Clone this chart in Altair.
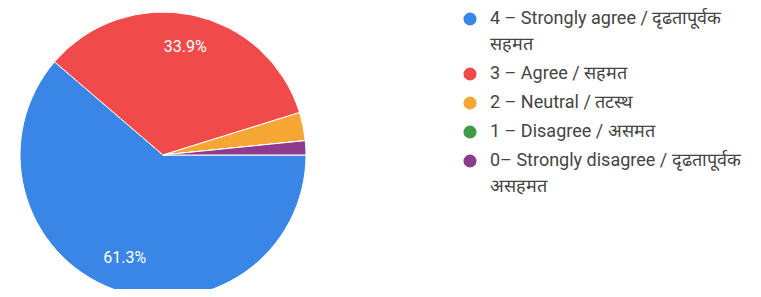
import altair as alt
import pandas as pd
import math

categories = [
    "4 – Strongly agree / दृढतापूर्वक\nसहमत",
    "3 – Agree / सहमत",
    "2 – Neutral / तटस्थ",
    "1 – Disagree / असमत",
    "0– Strongly disagree / दृढतापूर्वक\nअसहमत",
]
values = [61.3, 33.9, 3.2, 0.0, 1.6]
colors = ["#3a86e6", "#f04a4a", "#f6a733", "#3f9b45", "#8e3a8d"]

df = pd.DataFrame({"cat": categories, "value": values, "idx": list(range(len(values)))})

theta_scale = alt.Scale(range=[math.pi / 2, math.pi / 2 + 2 * math.pi])

base = alt.Chart(df).encode(
    theta=alt.Theta("value:Q", stack=True, scale=theta_scale),
    order=alt.Order("idx:Q"),
    x=alt.value(155),
    y=alt.value(147),
)

pie = base.mark_arc(outerRadius=143, stroke="white", strokeWidth=1).encode(
    color=alt.Color(
        "cat:N",
        sort=categories,
        scale=alt.Scale(domain=categories, range=colors),
        legend=alt.Legend(
            title=None,
            orient="none",
            legendX=453,
            legendY=2,
            symbolType="circle",
            symbolSize=170,
            symbolStrokeWidth=0,
            labelFont="Roboto",
            labelFontSize=18,
            labelColor="#444444",
            labelLimit=400,
            labelExpr="split(datum.label, '\\n')",
            rowPadding=11,
            labelOffset=11,
        ),
    )
)

text = base.mark_text(radius=110, font="Roboto", fontSize=16, color="white").encode(
    text=alt.Text("lbl:N")
).transform_calculate(
    lbl="datum.value >= 5 ? format(datum.value, '.1f') + '%' : ''"
)

chart = (pie + text).properties(
    width=745, height=281, padding=0, autosize=alt.AutoSizeParams(type="none")
).configure(style={"guide-label": {"lineHeight": 26}}).configure_view(stroke=None)

chart.save("out.html", embed_options={"renderer": "svg", "actions": False})
